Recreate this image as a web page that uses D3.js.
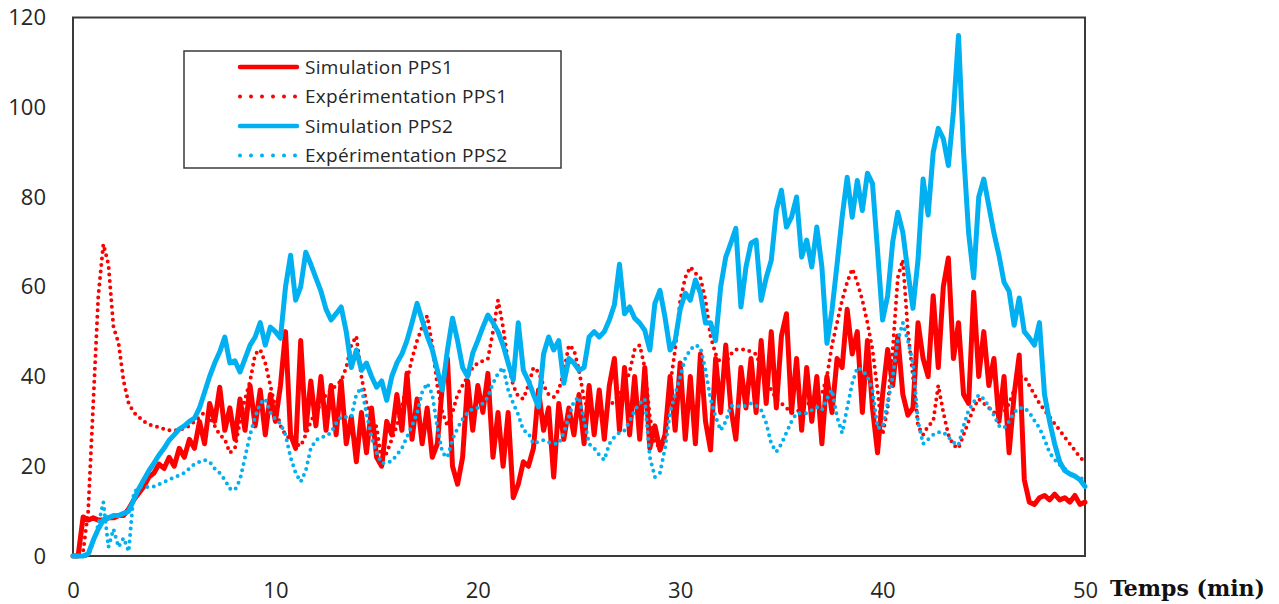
<!DOCTYPE html>
<html><head><meta charset="utf-8">
<script src="https://cdn.jsdelivr.net/npm/d3@7"></script>
<style>body{margin:0;background:#fff;overflow:hidden}</style>
</head><body>
<svg id="chart" width="1279" height="604"></svg>
<script>
// time axis: one reading every 0.25 min, 0 … 50 min
const minutes = d3.range(0, 50.001, 0.25);

const simPPS1 = [
 0,0,8.7,8,8.5,8,8,8.5,8.5,9, 9,10.5,12.5,14,15.5,17.6,18.5,20.5,19.5,22,
 20,24,22,26,24,30,25,34,30,37.6, 28,33,26,35,28,38,29,37,27,36,
 30,38,50,27,24,48,28,39,29,40, 28,38,27,39,25,31,21,32,23,33,
 22,20,30,27,36,28,40.7,26,35,25, 33,22,25,38,44,20,16,22,39,28,
 38,32,40.7,22,32,20,32,13,16,21, 20,24,37,28,33,17.6,34,26,33,27,
 36,25,38,27,37,26,38,44,28,42, 27,40,26,42,24,29,23.6,27,40,28,
 43,26,40,25,45,30,23.6,44,32,47, 33,26,42,33,44,32,48,34,50,33,
 49,54,32,44,28,42,30,40,25,40, 32,44,42,55,45,50,32,48,33,23,
 36,46,38,49,36,31.4,33,52,44,40, 58,42,60,66.4,44,52,36,34,58.8,40,
 50,38,44,30,40,23,36,44.8,17,12, 11.5,13,13.5,12.5,13.8,12.5,13,12,13.5,11.5,
 12];

const expPPS1 = [
 0,0,1,10,34,58,69.5,65,51,47.5, 39,34,32,31,30,29.3,29,28.7,28.3,28,
 28,28,28.5,29,30,31,32,31,29,27, 26,23,24,30,35,39,45,46,43,38,
 33,29,27,26,25,24.5,27,30,32,34, 36,37,38,39,42,47,49,40,34,31,
 28.7,21,23,26,29,33,39,44,48,51, 53.5,47,38,32,29,32,36,38,40,42,
 43,43.5,44,50,57,51,43,38,35.5,35, 38,42,41,38,36,35.4,37,41,47,46,
 41.4,35,32,31,31.5,32.5,33.5,34.5,36,38, 41,46,47,42,31,25,24.3,27,38,46,
 57,62,64.4,63,62,57,49,45,43,43, 45,46,46,46,45.5,45,42,39,37,35,
 34,33,32,32,33,34,34,35,36,40, 47,52,57,61,64,61,57,52,46,37,
 27,33,46,62,66,50,40,29,27,29, 30,38,32,27,24.7,24,27,30,33,35,
 34,33,32,31.4,32,34,37,40,40,38, 36,34,32.5,31,29.5,28,26.5,25,23.5,22,
 21];

const simPPS2 = [
 0,0,0,0.5,3.5,6,8,8.5,9,9, 9.5,10,12.5,15,17,19,20.7,22.5,24,25.8,
 27,28.3,29,30,30.7,33,36.5,40,43,45.5, 48.8,43,43.5,41,44,47,48.8,52,47,51,
 50,48.5,60,67,57,60,67.7,65,62,59, 55,52.6,54,55.5,50,42,45.9,41.4,43,40,
 37.6,39,34.7,40,43,45,48,52,56.3,52.6, 49,46,41.4,37,45.9,53,48,42,40,45.2,
 48,51,53.7,52,50,47,43,39.2,52,41.4, 39,36,33.2,45,48.8,45.9,48,38.5,44,43,
 41.4,42,48.8,50,48.8,50,52.6,56,65,54, 55.5,53,51.9,50.3,45.9,56.3,59.2,53.2,45.9,48,
 55,58.6,57,61.5,58.6,51.9,52,48,60,66.6, 69.7,73,55.5,64.4,69.7,70.4,57,62,65.9,77,
 81.5,73.3,75.5,80,66.6,70.4,64.4,73.3,64.4,47.4, 54.8,65,75.5,84.4,75.5,83.7,77,85.3,83,68.1,
 52.6,58,70,76.6,72.1,63.3,55.2,66,84,76, 90,95.3,93,87,99,116,90,72,62,80,
 84,78,72,67,61,59,51.4,57.5,50,48.6, 47,52,36,30,25,21,19,18.3,17.8,17,
 15.5];

const expPPS2 = [
 0,0,0,0,3,7,12,2,6,2, 4,1,14,15.4,15.4,15.4,15.5,16,16.5,17,
 17.5,18,18.5,19.5,20.5,21,21.4,21,19.5,18.5, 17,15,14.7,17,22,27,31,34,35,32,
 30.5,29.5,27,22,18.5,16.5,19,24,25.8,26.5, 26.7,27.5,29.6,31,31,31,36,37.5,31.8,26.5,
 23,20.7,20.7,21.2,22.5,24,26.5,29,31.8,36.5, 38.5,36,28.7,23,22,26,28.5,30.5,32,32.8,
 33,34,35.4,38.5,40.7,42,37,34,31.5,28, 27.4,25,25.5,25.8,25.3,25,25,27.5,31,34.5,
 35.4,30.3,25,24,22.5,21.4,25,26.5,27.5,28, 30,32.5,34,35,22,17.6,18.5,24,32,36,
 39.9,44,46,47,46.5,41.4,35,31,28,30, 33.5,33.5,33.2,33.5,34,33.5,32.5,29.6,25,23.2,
 25,27.5,30,31.8,31.8,31.8,32.5,33.2,32.5,35, 37,31,27.4,33,38.5,42,41.4,40,37,28.5,
 28.7,34,40,48,52,48,43,30,25,26, 27,27.6,27.6,26.5,25.3,24.7,29,32.5,34.3,35.9,
 35,33.3,31.4,29,28.5,30,32,33,33,32, 30.2,28.5,26,23,21.5,20.3,19.5,18.3,17.8,17.4,
 17];

const seriesNames = ["Simulation PPS1", "Expérimentation PPS1", "Simulation PPS2", "Expérimentation PPS2"];
const xTicks = [0, 10, 20, 30, 40, 50];
const yTicks = [0, 20, 40, 60, 80, 100, 120];
const xTitle = "Temps (min)";

const seriesValues = [simPPS1, expPPS1, simPPS2, expPPS2];
const seriesStyle = [
  {color: "#FF0000", dotted: false},
  {color: "#FF0000", dotted: true},
  {color: "#00B0F0", dotted: false},
  {color: "#00B0F0", dotted: true}
];

const svg = d3.select("#chart");
const x = d3.scaleLinear().domain([0, 50]).range([73, 1085]);
const y = d3.scaleLinear().domain([0, 120]).range([556, 17.5]);

const font = "'Open Sans', 'Noto Sans', sans-serif";

// axes (labels only)
const gx = svg.append("g").attr("transform", `translate(0,${y(0)})`)
  .call(d3.axisBottom(x).tickValues(xTicks).tickSize(0).tickPadding(26).tickFormat(d3.format("d")));
gx.select(".domain").remove();
gx.selectAll("text").attr("font-family", font).attr("font-size", 22).attr("fill", "#262626");

const gy = svg.append("g").attr("transform", `translate(${x(0)},0)`)
  .call(d3.axisLeft(y).tickValues(yTicks).tickSize(0).tickPadding(27).tickFormat(d3.format("d")));
gy.select(".domain").remove();
gy.selectAll("text").attr("font-family", font).attr("font-size", 22).attr("fill", "#262626");

// plot frame
svg.append("rect")
  .attr("x", x(0)).attr("y", y(120))
  .attr("width", x(50) - x(0)).attr("height", y(0) - y(120))
  .attr("fill", "none").attr("stroke", "#3a3a3a").attr("stroke-width", 2);

// series
const line = d3.line().x((d, i) => x(minutes[i])).y(d => y(d));
seriesValues.forEach((vals, k) => {
  const st = seriesStyle[k];
  const p = svg.append("path")
    .datum(vals)
    .attr("d", line)
    .attr("fill", "none")
    .attr("stroke", st.color)
    .attr("stroke-linejoin", "round")
    .attr("stroke-linecap", "round");
  if (st.dotted) {
    p.attr("stroke-width", 4).attr("stroke-dasharray", "0 6.5");
  } else {
    p.attr("stroke-width", 5);
  }
});

// x title
svg.append("text")
  .attr("x", 1110).attr("y", 596)
  .attr("font-family", "'DejaVu Serif', serif")
  .attr("font-weight", "bold")
  .attr("font-size", 22)
  .attr("fill", "#111")
  .text(xTitle);

// legend
const lg = svg.append("g");
lg.append("rect").attr("x", 184).attr("y", 51).attr("width", 377).attr("height", 117)
  .attr("fill", "#fff").attr("stroke", "#3a3a3a").attr("stroke-width", 1.5);
const rowY = [67, 96.5, 126, 155.5];
seriesNames.forEach((name, k) => {
  const st = seriesStyle[k];
  const l = lg.append("line")
    .attr("x1", 240).attr("x2", 297).attr("y1", rowY[k]).attr("y2", rowY[k])
    .attr("stroke", st.color).attr("stroke-linecap", "round");
  if (st.dotted) l.attr("stroke-width", 4).attr("stroke-dasharray", "0 11").attr("x1", 240).attr("x2", 296);
  else l.attr("stroke-width", 4.5);
  lg.append("text").attr("x", 305).attr("y", rowY[k]).attr("dy", "0.35em")
    .attr("font-family", font).attr("font-size", 19).attr("letter-spacing", 0.3)
    .attr("fill", "#262626").text(name);
});
</script>
</body></html>
